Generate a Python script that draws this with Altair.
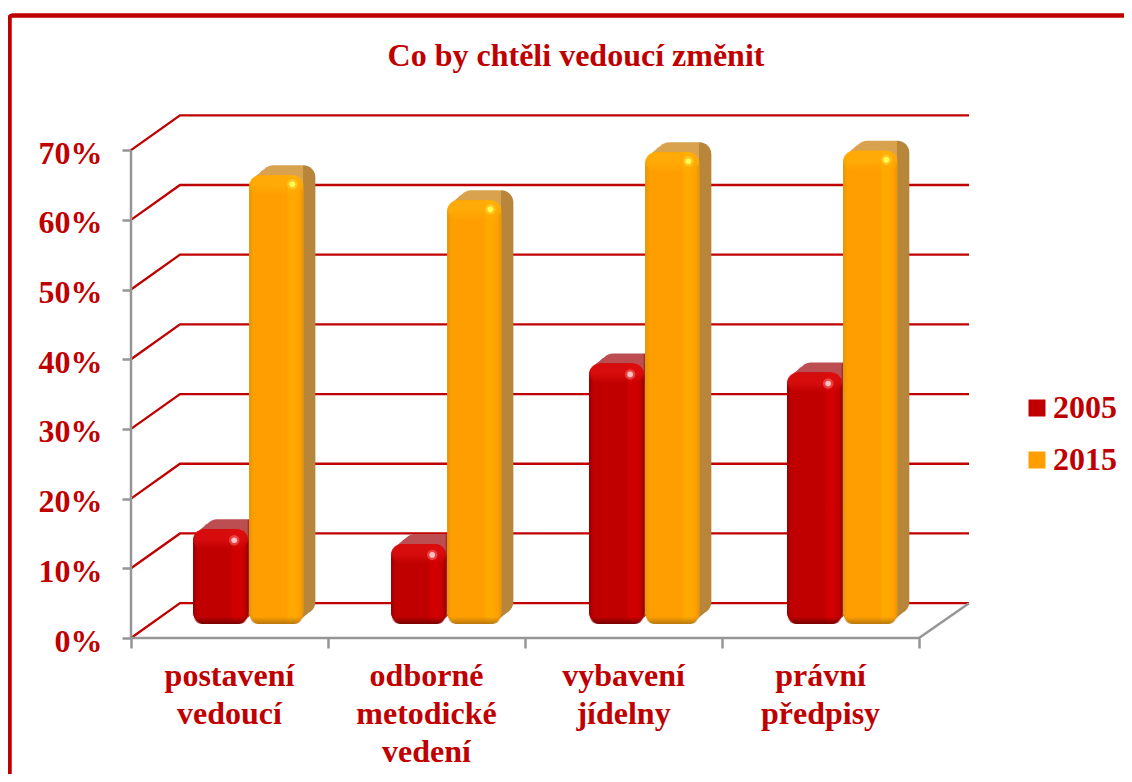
import altair as alt
import pandas as pd

categories = ["postavení\nvedoucí", "odborné\nmetodické\nvedení", "vybavení\njídelny", "právní\npředpisy"]
years = ["2005", "2015"]
values_2005 = [0.136, 0.115, 0.374, 0.361]
values_2015 = [0.644, 0.608, 0.677, 0.679]
ticks = [0, 0.1, 0.2, 0.3, 0.4, 0.5, 0.6, 0.7]
chart_title = "Co by chtěli vedoucí změnit"

RED = "#C00000"
GRAY = "#969696"
FONT = "Liberation Serif"
W, H = 838, 523
XMAX, YMAX = 4.2538, 0.7504
DEPTH_X, DEPTH_Y = 0.2487, 0.05
BASE = 0.02
GAP = 1.005
RADIUS = 12
FX = alt.Scale(domain=[0, XMAX], nice=False, zero=False)
FY = alt.Scale(domain=[0, YMAX], nice=False, zero=False)
XA = alt.Axis(
    values=[0, 1, 2, 3, 4], labels=False, title=None, grid=False,
    domain=False, tickColor=GRAY, tickWidth=2.5, tickSize=10,
)
YA = alt.Axis(
    values=ticks, format=".0%", title=None, grid=False, domain=False,
    tickColor=GRAY, tickWidth=2.5, tickSize=9,
    labelFont=FONT, labelFontSize=32, labelFontWeight="bold",
    labelColor=RED, labelPadding=20, labelOffset=3,
)

rows = []
for i, (a, b) in enumerate(zip(values_2005, values_2015)):
    rows.append(dict(year="2005", x0=i * GAP + 0.315, x1=i * GAP + 0.595, y0=BASE, y1=a + BASE))
    rows.append(dict(year="2015", x0=i * GAP + 0.600, x1=i * GAP + 0.875, y0=BASE, y1=b + BASE))
bars = pd.DataFrame(rows)

grid = pd.DataFrame(
    [dict(t=t, o=0, x=0, y=t) for t in ticks]
    + [dict(t=t, o=1, x=DEPTH_X, y=t + DEPTH_Y) for t in ticks]
    + [dict(t=t, o=2, x=XMAX, y=t + DEPTH_Y) for t in ticks]
)
floor = pd.DataFrame(
    [dict(o=0, x=0, y=0), dict(o=1, x=4, y=0), dict(o=2, x=XMAX, y=DEPTH_Y)]
)
wall = pd.DataFrame([dict(o=0, x=0, y=0), dict(o=1, x=0, y=0.7)])
labels = pd.DataFrame({"x": [i + 0.5 for i in range(4)], "label": categories})


def pos(y="y0", y2="y1"):
    return dict(
        x=alt.X("x0:Q", scale=FX, axis=XA),
        x2=alt.X2("x1:Q"),
        y=alt.Y(f"{y}:Q", scale=FY, axis=YA),
        y2=alt.Y2(f"{y2}:Q"),
    )


def hgrad(stops):
    return alt.LinearGradient(
        gradient="linear",
        x1=0, x2=1, y1=0, y2=0,
        stops=[alt.GradientStop(offset=o, color=c) for o, c in stops],
    )


def vgrad(stops):
    return alt.LinearGradient(
        gradient="linear",
        x1=0, x2=0, y1=0, y2=1,
        stops=[alt.GradientStop(offset=o, color=c) for o, c in stops],
    )


def extrude(year, top, side):
    out = []
    for dx, dy in [(4, -3.5), (8, -7), (12, -10)]:
        edge = 1 - dx / 55
        out.append(
            alt.Chart(bars[bars.year == year])
            .mark_rect(
                cornerRadius=RADIUS,
                fill=hgrad([(0, top), (edge - 0.02, top), (edge, side), (1, side)]),
                xOffset=dx, x2Offset=dx, yOffset=dy, y2Offset=dy,
            )
            .encode(**pos())
        )
    return out


def front(year, shade, edge_dark, stripe):
    d = bars[bars.year == year]
    solid = (
        alt.Chart(d)
        .mark_rect(cornerRadius=RADIUS)
        .encode(
            color=alt.Color(
                "year:N",
                scale=alt.Scale(domain=years, range=[RED, "#FF9E00"]),
                legend=alt.Legend(
                    title=None,
                    orient="none",
                    legendX=890,
                    legendY=277,
                    symbolType="square",
                    symbolSize=289,
                    symbolStrokeWidth=0,
                    symbolOpacity=1,
                    labelFont=FONT,
                    labelFontSize=32,
                    labelFontWeight="bold",
                    labelColor=RED,
                    labelLimit=200,
                    labelOffset=0,
                    rowPadding=20,
                    padding=0,
                ),
            ),
            **pos(),
        )
    )
    bevel_h = (
        alt.Chart(d)
        .mark_rect(
            cornerRadius=RADIUS,
            fill=hgrad([(0, edge_dark), (0.08, shade), (0.68, shade), (0.72, stripe), (0.86, stripe), (0.94, shade), (1, edge_dark)]),
        )
        .encode(**pos())
    )
    return [solid, bevel_h]


def bands(year, hi, hi0, lo, lo0):
    d = bars[bars.year == year]
    top = (
        alt.Chart(d)
        .mark_rect(cornerRadius=RADIUS, fill=vgrad([(0, hi), (0.5, hi), (1, hi0)]), y2Offset=20)
        .encode(**pos("y1", "y1"))
    )
    bottom = (
        alt.Chart(d)
        .mark_rect(cornerRadius=RADIUS, fill=vgrad([(0, lo0), (0.6, lo0), (1, lo)]), yOffset=-18)
        .encode(**pos("y0", "y0"))
    )
    return [top, bottom]


gridlines = (
    alt.Chart(grid)
    .mark_line(color=RED, strokeWidth=2.3)
    .encode(
        x=alt.X("x:Q", scale=FX, axis=XA),
        y=alt.Y("y:Q", scale=FY, axis=YA),
        detail="t:N",
        order="o:Q",
    )
)

gray_lines = [
    alt.Chart(src)
    .mark_line(color=GRAY, strokeWidth=2.5)
    .encode(
        x=alt.X("x:Q", scale=FX, axis=XA),
        y=alt.Y("y:Q", scale=FY, axis=YA),
        order="o:Q",
    )
    for src in (floor, wall)
]


def spark(year, dx, dy, core, glow):
    d = bars[bars.year == year]
    enc = dict(
        x=alt.X("x1:Q", scale=FX, axis=XA),
        y=alt.Y("y1:Q", scale=FY, axis=YA),
    )
    return [
        alt.Chart(d).mark_point(filled=True, size=110, color=glow, opacity=0.45, strokeWidth=0, xOffset=dx, yOffset=dy).encode(**enc),
        alt.Chart(d).mark_point(filled=True, size=32, color=core, opacity=1, strokeWidth=0, xOffset=dx, yOffset=dy).encode(**enc),
    ]


xlabels = (
    alt.Chart(labels)
    .mark_text(
        font=FONT, fontSize=32, fontWeight="bold", color=RED,
        lineBreak="\n", lineHeight=38, baseline="alphabetic", align="center",
    )
    .encode(
        x=alt.X("x:Q", scale=FX, axis=XA),
        y=alt.value(571),
        text="label:N",
    )
)

title_mark = (
    alt.Chart(pd.DataFrame({"label": [chart_title]}))
    .mark_text(font=FONT, fontSize=32, fontWeight="bold", color=RED, baseline="alphabetic", align="center")
    .encode(x=alt.value(445), y=alt.value(-49), text="label:N")
)

frame = (
    alt.Chart(pd.DataFrame({"a": [0]}))
    .mark_rect(stroke=RED, strokeWidth=4.5, fillOpacity=0, cornerRadius=3)
    .encode(
        x=alt.value(-121.5), x2=alt.value(W + 300),
        y=alt.value(-99.5), y2=alt.value(H + 300),
    )
)

layers = (
    [frame, gridlines] + gray_lines
    + extrude("2005", "#BC4E52", "#A03034")
    + front("2005", "#C00000", "#960000", "#D00000")
    + bands("2005", "rgba(230,20,20,0.6)", "rgba(230,20,20,0)", "rgba(110,0,0,0.9)", "rgba(110,0,0,0)")
    + spark("2005", -14, 11, "#FBC0C0", "#FF8080")
    + extrude("2015", "#D8A24E", "#B8863A")
    + front("2015", "#FF9E00", "#E0960A", "#FFA800")
    + bands("2015", "rgba(255,178,10,0.6)", "rgba(255,178,10,0)", "rgba(175,115,15,0.9)", "rgba(175,115,15,0)")
    + spark("2015", -11, 9, "#FFFF50", "#FFE040")
    + [xlabels, title_mark]
)

chart = (
    alt.layer(*layers)
    .properties(
        width=W,
        height=H,
        padding={"left": 123, "top": 107, "right": 155, "bottom": 136},
        autosize=alt.AutoSizeParams(type="none"),
    )
    .configure_view(stroke=None)
)

chart.save("out.html", embed_options={"renderer": "svg", "actions": False})
